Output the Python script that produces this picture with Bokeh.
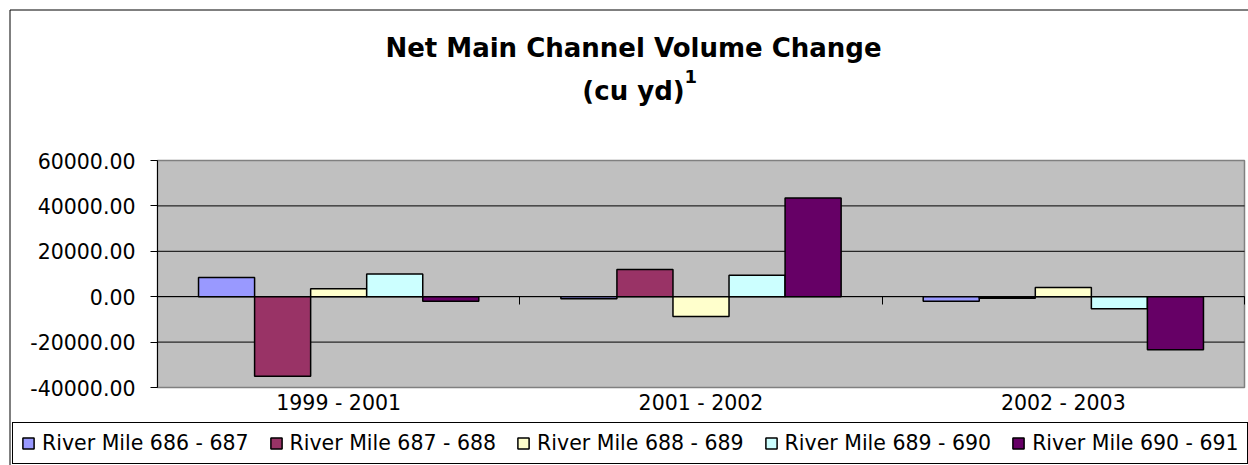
from bokeh.plotting import figure
from bokeh.models import (ColumnDataSource, Range1d, FixedTicker, PrintfTickFormatter,
                          LinearAxis, Label, Legend, BoxAnnotation)
from bokeh.transform import dodge
from bokeh.embed import file_html
from bokeh.resources import INLINE

# ---- data ----
periods = ["1999 - 2001", "2001 - 2002", "2002 - 2003"]
series_names = ["River Mile 686 - 687", "River Mile 687 - 688", "River Mile 688 - 689",
                "River Mile 689 - 690", "River Mile 690 - 691"]
rm_686_687 = [8500, -900, -2000]
rm_687_688 = [-35000, 12000, -700]
rm_688_689 = [3500, -8700, 4100]
rm_689_690 = [10000, 9400, -5300]
rm_690_691 = [-2000, 43500, -23400]
y_ticks = [-40000, -20000, 0, 20000, 40000, 60000]
title_line1 = "Net Main Channel Volume Change"
title_line2 = "(cu yd)"
title_note = "1"

# ---- styling / layout ----
colors = ["#9999FF", "#993366", "#FFFFCC", "#CCFFFF", "#660066"]
FONT = "DejaVu Sans"
W, H = 1248, 465
PLOT_L, PLOT_R, PLOT_T, PLOT_B = 157, 1244, 160, 387   # plot-area edges in pixels

n = len(periods)
x_per_px = n / (PLOT_R - PLOT_L)
y_per_px = (y_ticks[-1] - y_ticks[0]) / (PLOT_B - PLOT_T)


def X(px):
    return (px - PLOT_L) * x_per_px


def Y(py):
    return y_ticks[0] + (PLOT_B - py) * y_per_px


p = figure(width=W, height=H, x_range=Range1d(X(0), X(W)), y_range=Range1d(Y(H), Y(0)),
           output_backend="svg", toolbar_location=None, title=None, min_border=0,
           background_fill_color="white", border_fill_color="white")
p.outline_line_color = None
p.grid.visible = False

# grey plot area
p.add_layout(BoxAnnotation(left=0, right=n, bottom=y_ticks[0], top=y_ticks[-1],
                           fill_color="#C0C0C0", fill_alpha=1.0, line_color="#808080",
                           line_alpha=1.0, line_width=1.5, level="underlay"))

# horizontal gridlines at the value ticks
grid_vals = y_ticks[1:-1]
p.segment(x0=0, x1=n, y0=grid_vals, y1=grid_vals, line_color="black", line_width=1)

# value axis
yax = p.yaxis[0]
yax.fixed_location = 0
yax.bounds = (y_ticks[0], y_ticks[-1])
yax.ticker = FixedTicker(ticks=y_ticks)
yax.formatter = PrintfTickFormatter(format="%.2f")
yax.major_tick_out = 7
yax.major_tick_in = 0
yax.minor_tick_out = 0
yax.minor_tick_in = 0
yax.major_label_standoff = 15
yax.major_label_text_font = FONT
yax.major_label_text_font_size = "20.5px"
yax.major_label_text_color = "black"
yax.axis_line_color = "black"
yax.major_tick_line_color = "black"

# category labels at the bottom of the plot area
centers = [i + 0.5 for i in range(n)]
xax = p.xaxis[0]
xax.fixed_location = y_ticks[0]
xax.ticker = FixedTicker(ticks=centers)
xax.major_label_overrides = {c: lab for c, lab in zip(centers, periods)}
xax.axis_line_color = None
xax.major_tick_line_color = None
xax.minor_tick_line_color = None
xax.major_tick_out = 0
xax.major_tick_in = 0
xax.major_label_standoff = 3
xax.major_label_text_font = FONT
xax.major_label_text_font_size = "20.5px"
xax.major_label_text_color = "black"

# category axis crossing at zero, tick marks between categories
boundaries = list(range(1, n + 1))
tick_axis = LinearAxis(fixed_location=0, bounds=(0, n), ticker=FixedTicker(ticks=boundaries),
                       major_tick_out=8, major_tick_in=0, minor_tick_in=0, minor_tick_out=0,
                       major_label_text_color=None, axis_line_color="black",
                       major_tick_line_color="black")
p.add_layout(tick_axis, "below")

# bars
src = ColumnDataSource(dict(period=periods, xc=centers, s0=rm_686_687, s1=rm_687_688,
                            s2=rm_688_689, s3=rm_689_690, s4=rm_690_691))
bar_w = 0.1547
items = []
for i, (key, name, color) in enumerate(zip(["s0", "s1", "s2", "s3", "s4"], series_names, colors)):
    off = (i - 2) * bar_w
    r = p.vbar(x=dodge("xc", off), top=key, bottom=0, width=bar_w, source=src,
               fill_color=color, line_color="black", line_width=1.5)
    items.append((name, [r]))

legend = Legend(items=items, orientation="horizontal", location=(12, 1),
                glyph_width=14, glyph_height=14, label_standoff=7, spacing=20, padding=8, margin=0,
                label_text_font=FONT, label_text_font_size="20.5px", label_text_color="black",
                border_line_color="black", border_line_width=1, border_line_alpha=1.0,
                background_fill_color="white", background_fill_alpha=1.0)
p.add_layout(legend)

# titles
p.add_layout(Label(x=X(633), y=Y(47), text=title_line1, text_align="center",
                   text_baseline="alphabetic", text_font=FONT, text_font_size="26px",
                   text_font_style="bold", text_color="black"))
p.add_layout(Label(x=X(633), y=Y(90), text=title_line2, text_align="center",
                   text_baseline="alphabetic", text_font=FONT, text_font_size="26px",
                   text_font_style="bold", text_color="black"))
p.add_layout(Label(x=X(684), y=Y(76), text=title_note, text_align="left",
                   text_baseline="alphabetic", text_font=FONT, text_font_size="18px",
                   text_font_style="bold", text_color="black"))

# outer chart border (cropped on the right and bottom like the reference)
p.add_layout(BoxAnnotation(left=X(9.5), right=X(W + 20), top=Y(9.5), bottom=Y(H + 20),
                           fill_alpha=0.0, line_color="black", line_alpha=1.0, line_width=1))

open("out.html", "w").write(file_html(p, INLINE))
